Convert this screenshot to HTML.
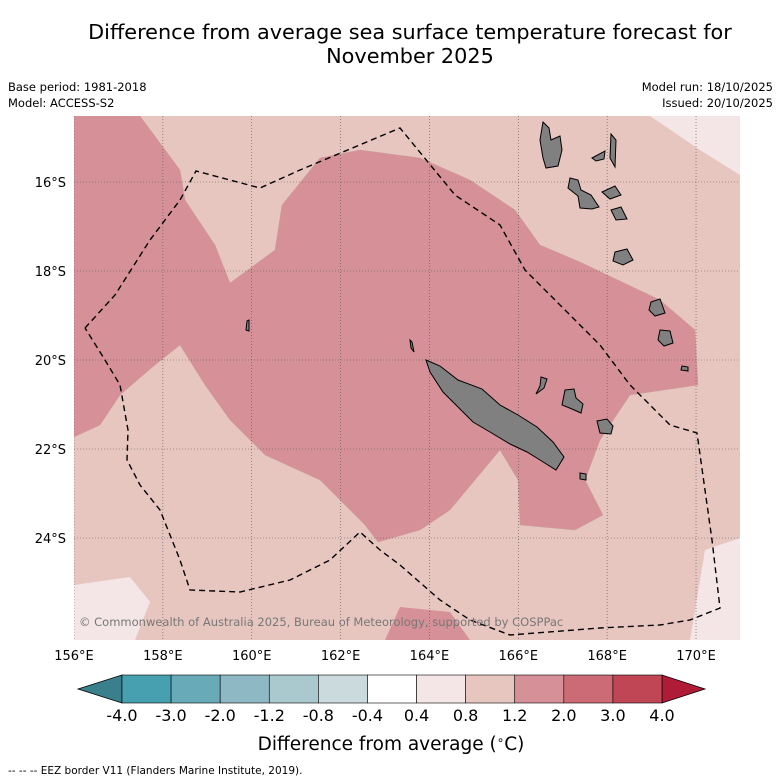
<!DOCTYPE html>
<html><head><meta charset="utf-8"><style>
body{margin:0;background:#fff;width:781px;height:781px;overflow:hidden;font-family:"DejaVu Sans","Liberation Sans",sans-serif}
svg{display:block}
</style></head><body>
<svg id="chart" width="781" height="781" viewBox="0 0 781 781" xmlns="http://www.w3.org/2000/svg">
<text x="410" y="39" text-anchor="middle" font-size="20.8">Difference from average sea surface temperature forecast for</text>
<text x="410" y="63" text-anchor="middle" font-size="20.8">November 2025</text>
<text x="8" y="91" font-size="11.5">Base period: 1981-2018</text>
<text x="8" y="107" font-size="11.5">Model: ACCESS-S2</text>
<text x="773" y="91" font-size="11.5" text-anchor="end">Model run: 18/10/2025</text>
<text x="773" y="107" font-size="11.5" text-anchor="end">Issued: 20/10/2025</text>
<defs><clipPath id="mc"><rect x="74" y="116" width="666" height="524"/></clipPath></defs>
<g clip-path="url(#mc)">
<rect x="74" y="116" width="666" height="524" fill="#e8c6c0"/>
<polygon fill="#d69097" stroke="#c9a0a0" stroke-width="0.5" points="74,116 140,116 180,170 185,200 215,245 230,283 275,250 282,205 320,158 360,150 420,158 470,180 515,210 540,245 580,262 660,300 695,330 698,385 630,395 600,440 585,480 603,515 575,530 520,525 518,480 500,450 475,480 450,510 420,530 378,542 365,525 320,480 265,455 230,420 205,385 180,345 155,365 120,395 100,425 74,437"/>
<polygon fill="#d69097" points="385,640 400,607 450,612 470,640"/>
<polygon fill="#f4e6e6" points="650,116 700,150 740,175 740,116"/>
<polygon fill="#f4e6e6" points="705,550 740,538 740,640 690,640"/>
<polygon fill="#f4e6e6" points="74,585 130,577 150,602 135,640 74,640"/>
<g id="grid" stroke="#555" stroke-width="0.6" stroke-dasharray="1,2"></g>
<g fill="#808080" stroke="#000" stroke-width="1">
<polygon points="426,360 440,366 458,380 482,389 500,405 518,415 537,427 553,442 564,457 556,470 540,460 527,452 510,444 490,432 473,422 460,409 443,392 430,372"/>
<polygon points="565,390 574,389 576,398 583,404 581,413 572,409 562,405"/>
<polygon points="597,421 607,419 613,426 611,434 600,433"/>
<polygon points="541,377 547,379 544,388 536,394 540,386"/>
<polygon points="543,122 549,128 551,140 560,136 562,150 558,166 546,168 543,158 540,140"/>
<polygon points="570,178 578,180 581,190 591,195 599,207 592,209 580,208 578,196 568,188"/>
<polygon points="611,134 616,140 615,167 610,158"/>
<polygon points="592,158 605,151 604,159 596,161"/>
<polygon points="602,192 615,186 621,195 610,199"/>
<polygon points="611,210 621,207 627,219 616,220"/>
<polygon points="615,252 627,249 633,260 623,265 613,261"/>
<polygon points="651,302 660,299 665,313 655,316 649,310"/>
<polygon points="660,330 670,331 673,343 664,346 658,340"/>
<polygon points="682,366 688,367 688,371 681,370"/>
<polygon points="580,473 586,474 586,480 580,479"/>
<polygon points="247,321 249,320 249,331 246,330"/>
<polygon points="410,340 412,342 414,352 411,348"/>
</g>
<polyline fill="none" stroke="#000" stroke-width="1.4" stroke-dasharray="6,4" points="85,328 115,295 150,240 180,200 196,171 260,188 300,170 400,128 455,195 500,225 525,270 545,290 570,315 600,345 630,385 670,425 697,433 712,540 720,608 690,620 660,625 600,628 510,635 470,620 440,600 400,565 380,550 360,532 330,560 290,580 240,592 190,590 180,560 160,510 140,485 127,460 128,430 120,385 105,360 85,328"/>
<text x="79" y="626" font-size="11.5" fill="#777">© Commonwealth of Australia 2025, Bureau of Meteorology, supported by COSPPac</text>
</g>
<g id="axes" font-size="13"></g>
<g id="cbar"></g>
<text x="391" y="750" text-anchor="middle" font-size="18.5">Difference from average (<tspan font-size="12" dy="-6">∘</tspan><tspan dy="6">C)</tspan></text>
<text x="8" y="774" font-size="10.5">--  --  -- EEZ border V11 (Flanders Marine Institute, 2019).</text>
</svg>
<script>
const lonTicks=[156,158,160,162,164,166,168,170];
const latTicks=[16,18,20,22,24];
const cbLabels=["-4.0","-3.0","-2.0","-1.2","-0.8","-0.4","0.4","0.8","1.2","2.0","3.0","4.0"];
const cbColors=["#46a0b0","#68aab8","#8db8c4","#a9c9ce","#cadadd","#ffffff","#f4e6e6","#e8c6c0","#d69097","#cc6a75","#c04555"];
const NS="http://www.w3.org/2000/svg";
const xs=l=>74+(l-156)*44.43, ys=a=>182+(a-16)*44.5;
const grid=document.getElementById('grid'),axes=document.getElementById('axes'),cb=document.getElementById('cbar');
function mk(t,p,a){const e=document.createElementNS(NS,t);for(const k in a)e.setAttribute(k,a[k]);p.appendChild(e);return e;}
lonTicks.forEach(l=>{
 const g=mk('line',grid,{x1:xs(l),x2:xs(l),y1:116,y2:640});
 
 
 const t=mk('text',axes,{x:xs(l),y:660,'text-anchor':'middle'});t.textContent=l+'°E';
 
 
});
latTicks.forEach(a=>{
 const g=mk('line',grid,{x1:74,x2:740,y1:ys(a),y2:ys(a)});
 
 
 const t=mk('text',axes,{x:66,y:ys(a)+5,'text-anchor':'end'});t.textContent=a+'°S';
 
 
});
const x0=122,x1=662,y0=675,y1=703,w=(x1-x0)/cbColors.length;
const la=mk('polygon',cb,{points:`78,${(y0+y1)/2} ${x0},${y0} ${x0},${y1}`,fill:'#3a7f8c',stroke:'#000','stroke-width':0.8});


const ra=mk('polygon',cb,{points:`705,${(y0+y1)/2} ${x1},${y0} ${x1},${y1}`,fill:'#b01c38',stroke:'#000','stroke-width':0.8});


cbColors.forEach((c,i)=>{
 const r=mk('rect',cb,{x:x0+i*w,y:y0,width:w,height:y1-y0,fill:c,stroke:'#000','stroke-width':0.6});
 
 
});
cbLabels.forEach((s,i)=>{
 const t=mk('text',cb,{x:x0+i*w,y:721,'text-anchor':'middle','font-size':16});t.textContent=s;
 
 
});
</script>
</body></html>
